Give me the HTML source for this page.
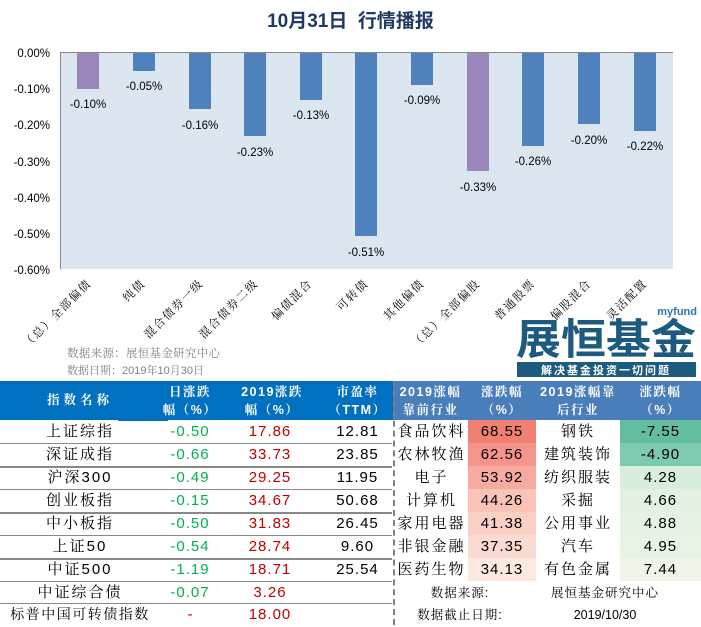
<!DOCTYPE html>
<html><head><meta charset="utf-8"><style>
html,body{margin:0;padding:0;background:#fff;}
body{width:701px;height:625px;position:relative;overflow:hidden;font-family:"Liberation Sans","Noto Sans CJK SC",sans-serif;}
.a{position:absolute;}
.c{position:absolute;text-align:center;white-space:nowrap;}
.cj{font-family:"Liberation Sans","Noto Serif CJK SC",serif;}
.n{letter-spacing:1px;}
.z{letter-spacing:2px;}
</style></head><body>
<div class="c" style="left:0;width:701px;top:6px;font-size:19px;font-weight:bold;color:#1f3864;font-family:'Liberation Sans','Noto Sans CJK SC',sans-serif;">10月31日&nbsp; 行情播报</div>
<svg class="a" style="left:0;top:0" width="701" height="380" xmlns="http://www.w3.org/2000/svg">
<rect x="60" y="52" width="613" height="217" fill="#dce6f1"/>
<line x1="60.5" y1="52" x2="60.5" y2="269" stroke="#888" stroke-width="1"/>
<line x1="60" y1="52.5" x2="673" y2="52.5" stroke="#888" stroke-width="1"/>
<g font-family="Liberation Sans,sans-serif" font-size="11.5" fill="#000" text-anchor="end">
<text x="50" y="57">0.00%</text><text x="50" y="93">-0.10%</text><text x="50" y="129">-0.20%</text><text x="50" y="166">-0.30%</text><text x="50" y="202">-0.40%</text><text x="50" y="238">-0.50%</text><text x="50" y="274">-0.60%</text>
</g>
<g font-family="Liberation Sans,sans-serif" font-size="11.5" fill="#000" text-anchor="middle">
<rect x="77" y="53" width="22" height="36" fill="#9b86bd"/><text x="88" y="108">-0.10%</text>
<rect x="133" y="53" width="22" height="18" fill="#4f81bd"/><text x="144" y="90">-0.05%</text>
<rect x="189" y="53" width="22" height="56" fill="#4f81bd"/><text x="200" y="129">-0.16%</text>
<rect x="244" y="53" width="22" height="83" fill="#4f81bd"/><text x="255" y="156">-0.23%</text>
<rect x="300" y="53" width="22" height="47" fill="#4f81bd"/><text x="311" y="119">-0.13%</text>
<rect x="355" y="53" width="22" height="183" fill="#4f81bd"/><text x="366" y="256">-0.51%</text>
<rect x="411" y="53" width="22" height="32" fill="#4f81bd"/><text x="422" y="104">-0.09%</text>
<rect x="467" y="53" width="22" height="118" fill="#9b86bd"/><text x="478" y="191">-0.33%</text>
<rect x="522" y="53" width="22" height="93" fill="#4f81bd"/><text x="533" y="165">-0.26%</text>
<rect x="578" y="53" width="22" height="71" fill="#4f81bd"/><text x="589" y="144">-0.20%</text>
<rect x="634" y="53" width="22" height="78" fill="#4f81bd"/><text x="645" y="150">-0.22%</text>
</g>
<g font-family="Noto Serif CJK SC,serif" font-size="11.5" fill="#000" text-anchor="end" letter-spacing="1.5">
<text transform="translate(92,284) rotate(-45)">（总）全部偏债</text>
<text transform="translate(146,284) rotate(-45)">纯债</text>
<text transform="translate(204,284) rotate(-45)">混合债券一级</text>
<text transform="translate(259,284) rotate(-45)">混合债券二级</text>
<text transform="translate(313,284) rotate(-45)">偏债混合</text>
<text transform="translate(369,284) rotate(-45)">可转债</text>
<text transform="translate(425,284) rotate(-45)">其他偏债</text>
<text transform="translate(481,284) rotate(-45)">（总）全部偏股</text>
<text transform="translate(536,284) rotate(-45)">普通股票</text>
<text transform="translate(592,284) rotate(-45)">偏股混合</text>
<text transform="translate(648,284) rotate(-45)">灵活配置</text>
</g>
<g font-family="Noto Serif CJK SC,serif" font-size="11.5" fill="#808080">
<text x="67" y="357" textLength="153" lengthAdjust="spacing">数据来源：展恒基金研究中心</text>
<text x="67" y="374" font-size="11">数据日期：<tspan font-family="Liberation Sans,sans-serif">2019</tspan>年<tspan font-family="Liberation Sans,sans-serif">10</tspan>月<tspan font-family="Liberation Sans,sans-serif">30</tspan>日</text>
</g>
<text x="697" y="315" text-anchor="end" font-family="Liberation Sans,sans-serif" font-size="11" font-weight="bold" fill="#2e75b6">myfund</text>
<text x="606" y="354" text-anchor="middle" font-family="Noto Sans CJK SC,sans-serif" font-size="42" font-weight="bold" fill="#1d5a7f" textLength="180" lengthAdjust="spacingAndGlyphs">展恒基金</text>
<rect x="517" y="362" width="179" height="15" fill="#1d5a7f"/>
<text x="606" y="374" text-anchor="middle" font-family="Noto Sans CJK SC,sans-serif" font-size="11" font-weight="bold" fill="#fff" letter-spacing="2">解决基金投资一切问题</text>
</svg>
<!-- header -->
<div class="a" style="left:0;top:381px;width:393px;height:39px;background:#0070c0"></div>
<div class="a" style="left:393px;top:381px;width:308px;height:39px;background:#4a7ebb"></div>
<div class="a" style="left:118px;top:419px;width:50px;height:2px;background:#0070c0"></div>
<div class="a cj" style="left:0;top:381px;width:701px;height:39px;color:#fff;font-weight:bold;font-size:12.5px;line-height:18px;letter-spacing:1.5px">
<div class="c" style="left:0;width:160px;top:10px;letter-spacing:4px">指数名称</div>
<div class="c" style="left:160px;width:60px;top:2px">日涨跌<br>幅（%）</div>
<div class="c" style="left:222px;width:100px;top:2px">2019涨跌<br>幅（%）</div>
<div class="c" style="left:320px;width:75px;top:2px">市盈率<br>（TTM）</div>
<div class="c" style="left:393px;width:75px;top:2px">2019涨幅<br>靠前行业</div>
<div class="c" style="left:468px;width:68px;top:2px">涨跌幅<br>（%）</div>
<div class="c" style="left:536px;width:84px;top:2px">2019涨幅靠<br>后行业</div>
<div class="c" style="left:620px;width:81px;top:2px">涨跌幅<br>（%）</div>
</div>
<div class="a" style="left:393px;top:381px;height:244px;border-left:2px dashed #808080"></div>
<!-- heatmap cells -->
<div class="a" style="left:468px;top:420px;width:68px;height:23px;background:#f28072"></div>
<div class="a" style="left:468px;top:443px;width:68px;height:23px;background:#f4948a"></div>
<div class="a" style="left:468px;top:466px;width:68px;height:23px;background:#f7ab9f"></div>
<div class="a" style="left:468px;top:489px;width:68px;height:23px;background:#f9c3b7"></div>
<div class="a" style="left:468px;top:512px;width:68px;height:23px;background:#fad0c5"></div>
<div class="a" style="left:468px;top:535px;width:68px;height:23px;background:#fbdbd1"></div>
<div class="a" style="left:468px;top:558px;width:68px;height:23px;background:#fce9df"></div>
<div class="a" style="left:620px;top:420px;width:81px;height:23px;background:#63be9f"></div>
<div class="a" style="left:620px;top:443px;width:81px;height:23px;background:#7dcab0"></div>
<div class="a" style="left:620px;top:466px;width:81px;height:23px;background:#d9eedc"></div>
<div class="a" style="left:620px;top:489px;width:81px;height:23px;background:#e2f1e2"></div>
<div class="a" style="left:620px;top:512px;width:81px;height:23px;background:#e6f2e4"></div>
<div class="a" style="left:620px;top:535px;width:81px;height:23px;background:#e8f3e5"></div>
<div class="a" style="left:620px;top:558px;width:81px;height:23px;background:#eff5e9"></div>
<!-- row lines left -->
<div class="a" style="left:0;top:443px;width:392px;height:1px;background:#888"></div>
<div class="a" style="left:0;top:466px;width:392px;height:2px;background:#888"></div>
<div class="a" style="left:0;top:489px;width:392px;height:1px;background:#888"></div>
<div class="a" style="left:0;top:512px;width:392px;height:2px;background:#888"></div>
<div class="a" style="left:0;top:535px;width:392px;height:1px;background:#888"></div>
<div class="a" style="left:0;top:558px;width:392px;height:2px;background:#888"></div>
<div class="a" style="left:0;top:581px;width:392px;height:1px;background:#888"></div>
<div class="a" style="left:0;top:603px;width:392px;height:1px;background:#888"></div>
<div class="a cj" style="left:0;top:420px;width:701px;font-size:15px;">
<div style="position:absolute;left:0;top:0;width:701px;line-height:23px">
<div class="c z" style="left:0;top:0;width:160px">上证综指</div><div class="c n" style="left:155px;top:0;width:70px;color:#00b050">-0.50</div><div class="c n" style="left:235px;top:0;width:70px;color:#c00000">17.86</div><div class="c n" style="left:320px;top:0;width:75px">12.81</div><div class="c z" style="left:395px;top:0;width:73px">食品饮料</div><div class="c n" style="left:468px;top:0;width:68px">68.55</div><div class="c z" style="left:536px;top:0;width:84px">钢铁</div><div class="c n" style="left:620px;top:0;width:81px">-7.55</div>
<div class="c z" style="left:0;top:23px;width:160px">深证成指</div><div class="c n" style="left:155px;top:23px;width:70px;color:#00b050">-0.66</div><div class="c n" style="left:235px;top:23px;width:70px;color:#c00000">33.73</div><div class="c n" style="left:320px;top:23px;width:75px">23.85</div><div class="c z" style="left:395px;top:23px;width:73px">农林牧渔</div><div class="c n" style="left:468px;top:23px;width:68px">62.56</div><div class="c z" style="left:536px;top:23px;width:84px">建筑装饰</div><div class="c n" style="left:620px;top:23px;width:81px">-4.90</div>
<div class="c z" style="left:0;top:46px;width:160px">沪深300</div><div class="c n" style="left:155px;top:46px;width:70px;color:#00b050">-0.49</div><div class="c n" style="left:235px;top:46px;width:70px;color:#c00000">29.25</div><div class="c n" style="left:320px;top:46px;width:75px">11.95</div><div class="c z" style="left:395px;top:46px;width:73px">电子</div><div class="c n" style="left:468px;top:46px;width:68px">53.92</div><div class="c z" style="left:536px;top:46px;width:84px">纺织服装</div><div class="c n" style="left:620px;top:46px;width:81px">4.28</div>
<div class="c z" style="left:0;top:69px;width:160px">创业板指</div><div class="c n" style="left:155px;top:69px;width:70px;color:#00b050">-0.15</div><div class="c n" style="left:235px;top:69px;width:70px;color:#c00000">34.67</div><div class="c n" style="left:320px;top:69px;width:75px">50.68</div><div class="c z" style="left:395px;top:69px;width:73px">计算机</div><div class="c n" style="left:468px;top:69px;width:68px">44.26</div><div class="c z" style="left:536px;top:69px;width:84px">采掘</div><div class="c n" style="left:620px;top:69px;width:81px">4.66</div>
<div class="c z" style="left:0;top:92px;width:160px">中小板指</div><div class="c n" style="left:155px;top:92px;width:70px;color:#00b050">-0.50</div><div class="c n" style="left:235px;top:92px;width:70px;color:#c00000">31.83</div><div class="c n" style="left:320px;top:92px;width:75px">26.45</div><div class="c z" style="left:395px;top:92px;width:73px">家用电器</div><div class="c n" style="left:468px;top:92px;width:68px">41.38</div><div class="c z" style="left:536px;top:92px;width:84px">公用事业</div><div class="c n" style="left:620px;top:92px;width:81px">4.88</div>
<div class="c z" style="left:0;top:115px;width:160px">上证50</div><div class="c n" style="left:155px;top:115px;width:70px;color:#00b050">-0.54</div><div class="c n" style="left:235px;top:115px;width:70px;color:#c00000">28.74</div><div class="c n" style="left:320px;top:115px;width:75px">9.60</div><div class="c z" style="left:395px;top:115px;width:73px">非银金融</div><div class="c n" style="left:468px;top:115px;width:68px">37.35</div><div class="c z" style="left:536px;top:115px;width:84px">汽车</div><div class="c n" style="left:620px;top:115px;width:81px">4.95</div>
<div class="c z" style="left:0;top:138px;width:160px">中证500</div><div class="c n" style="left:155px;top:138px;width:70px;color:#00b050">-1.19</div><div class="c n" style="left:235px;top:138px;width:70px;color:#c00000">18.71</div><div class="c n" style="left:320px;top:138px;width:75px">25.54</div><div class="c z" style="left:395px;top:138px;width:73px">医药生物</div><div class="c n" style="left:468px;top:138px;width:68px">34.13</div><div class="c z" style="left:536px;top:138px;width:84px">有色金属</div><div class="c n" style="left:620px;top:138px;width:81px">7.44</div>
<div class="c z" style="left:0;top:161px;width:160px">中证综合债</div><div class="c n" style="left:155px;top:161px;width:70px;color:#00b050">-0.07</div><div class="c n" style="left:235px;top:161px;width:70px;color:#c00000">3.26</div>
<div class="c" style="left:0;top:183px;width:160px;font-size:14px;letter-spacing:1.5px">标普中国可转债指数</div><div class="c" style="left:155px;top:183px;width:70px;color:#c00000">-</div><div class="c n" style="left:235px;top:183px;width:70px;color:#c00000">18.00</div>
<div class="c" style="left:400px;top:162px;width:120px;font-size:12.5px;letter-spacing:1px">数据来源:</div><div class="c" style="left:530px;top:162px;width:150px;font-size:12.5px;letter-spacing:1px">展恒基金研究中心</div>
<div class="c" style="left:400px;top:184px;width:120px;font-size:12.5px;letter-spacing:1px">数据截止日期:</div><div class="c" style="left:530px;top:184px;width:150px;font-size:12.5px">2019/10/30</div>
</div></div>
</body></html>
